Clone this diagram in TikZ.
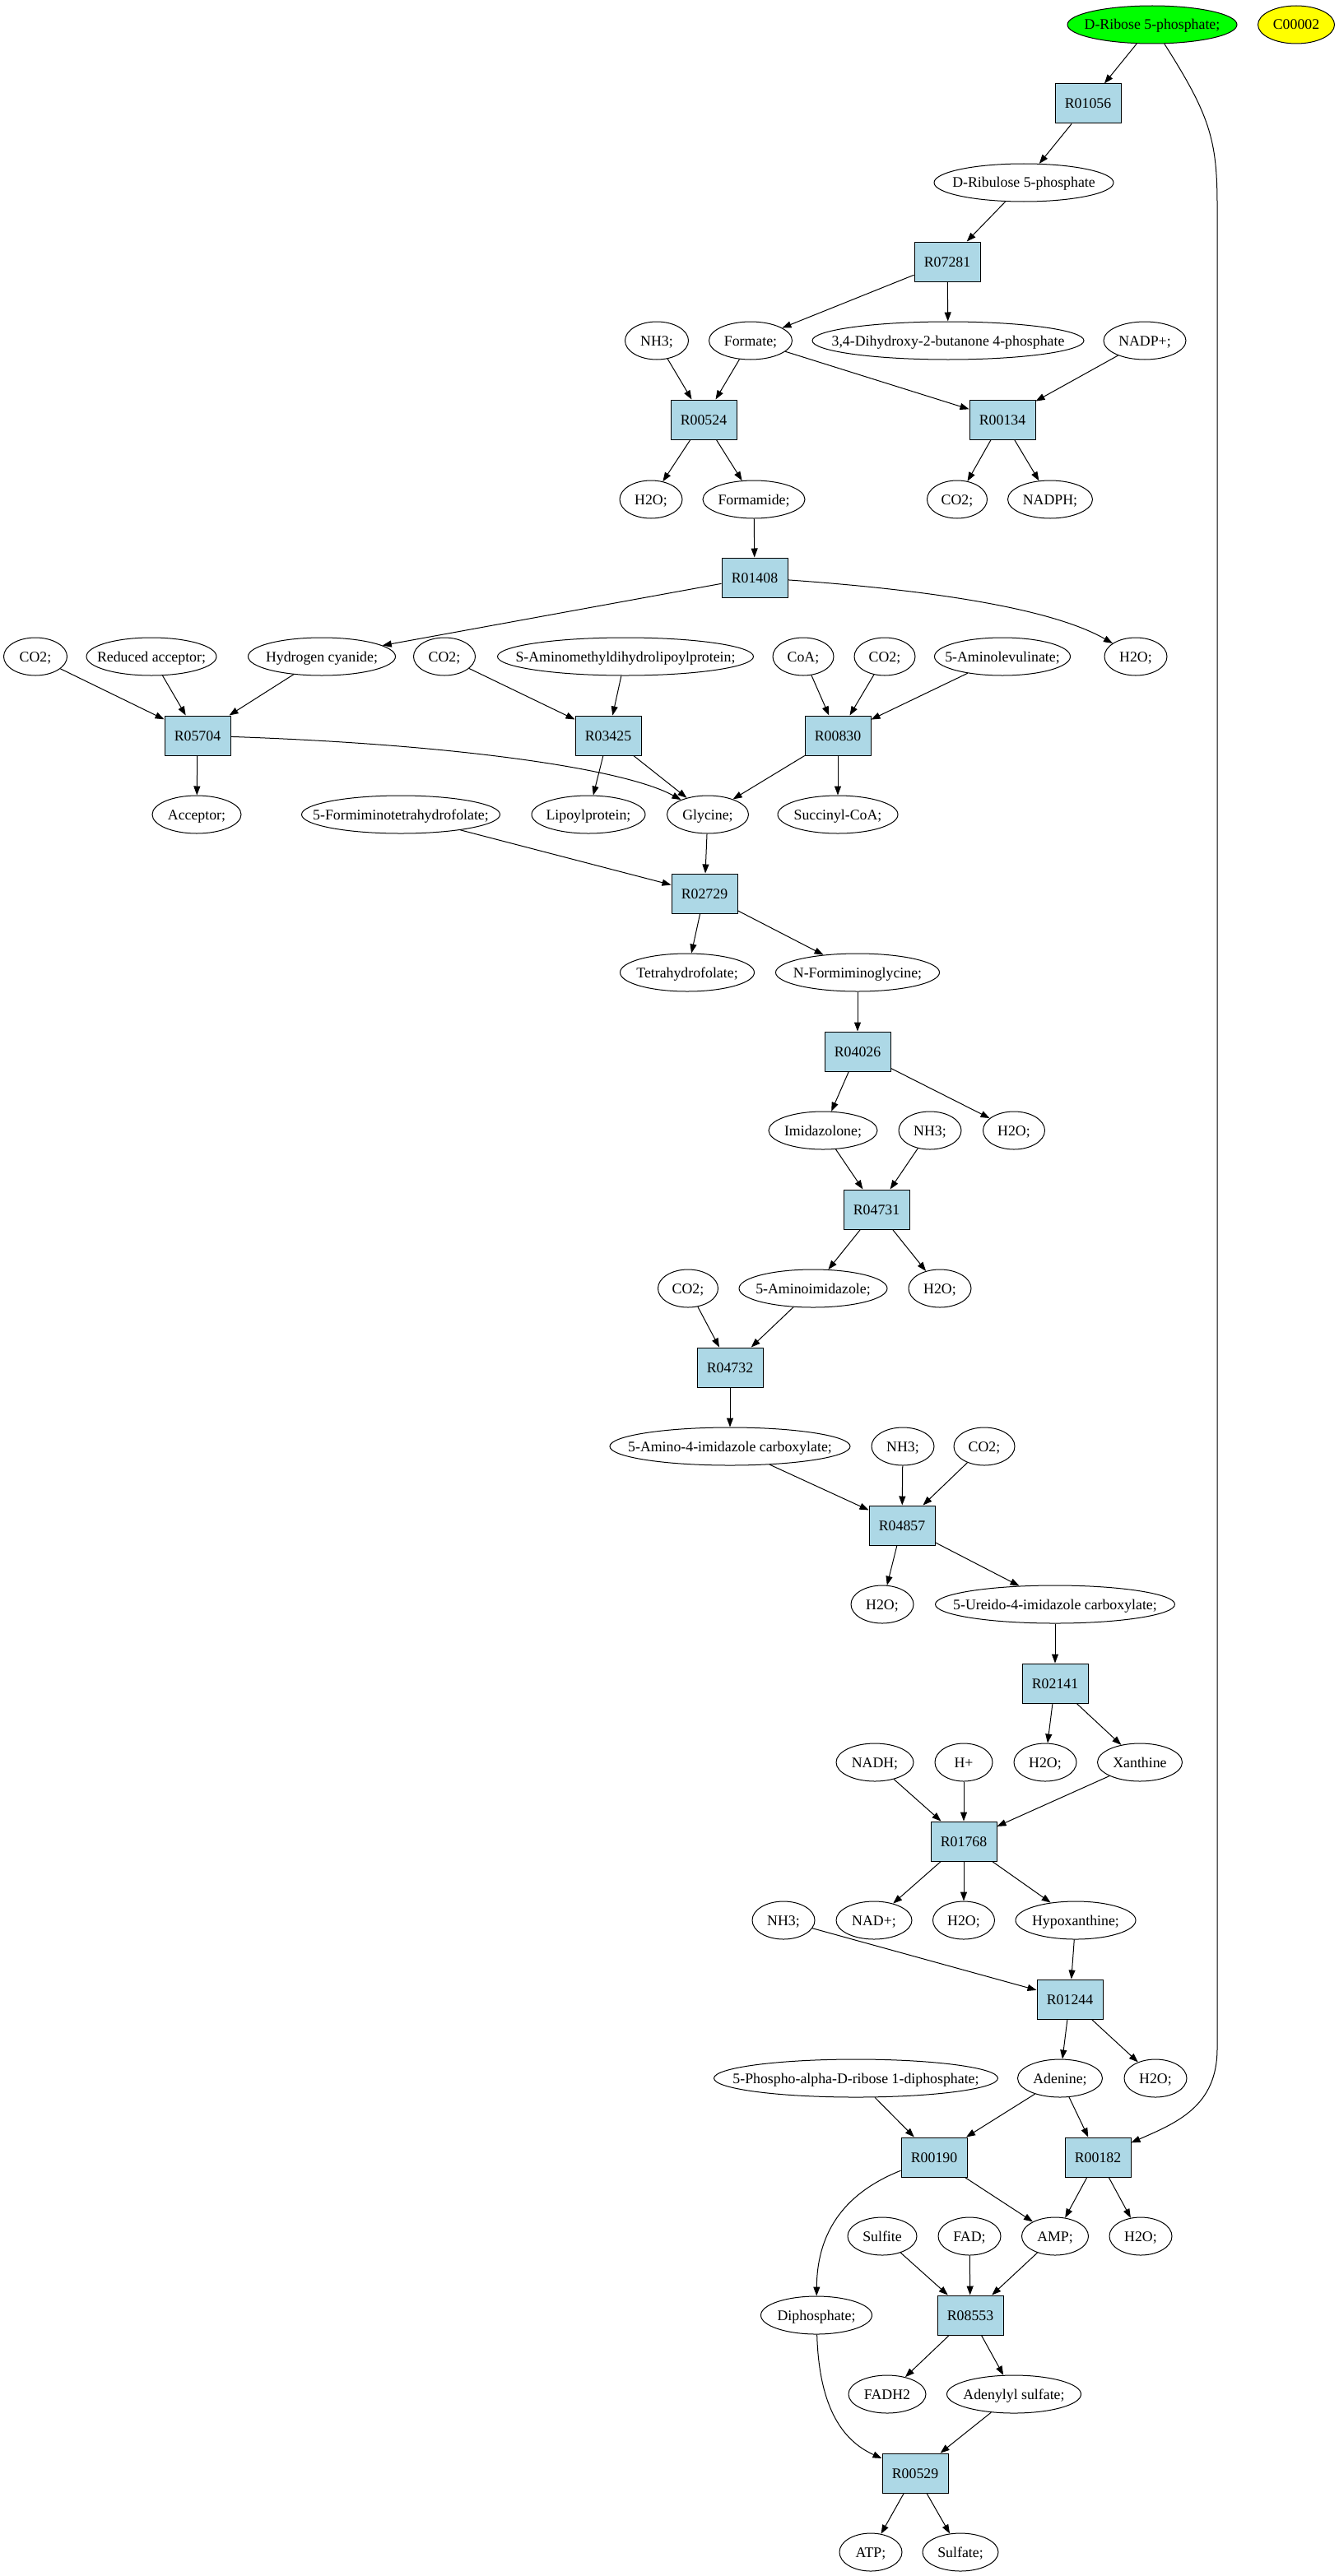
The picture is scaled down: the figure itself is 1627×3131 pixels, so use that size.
\documentclass[tikz,border=0pt]{standalone}
\usepackage{fontspec}
\setmainfont{Liberation Serif}
\usetikzlibrary{shapes.geometric,arrows.meta}
\definecolor{rxnblue}{RGB}{173,216,230}
\definecolor{startgreen}{RGB}{0,255,0}
\definecolor{hiyellow}{RGB}{255,255,0}
\newcommand{\cpd}[5][]{\node[cpd={#4},#1] (#2) at (#3) {\makebox[0pt]{#5}};}
\newcommand{\rxn}[3]{\node[rxnbox] (#1) at (#2) {#3};}
\tikzset{
  every node/.style={font=\fontsize{17.8}{21}\selectfont},
  cpd/.style={draw, ellipse, line width=1pt, inner sep=0pt, minimum height=46pt,
    minimum width=#1, text height=14pt, text depth=2pt},
  rxnbox/.style={draw, rectangle, line width=1pt, fill=rxnblue, inner sep=0pt,
    minimum width=80pt, minimum height=48pt, text height=14pt, text depth=2pt},
  edge/.style={line width=1pt, -{Triangle[length=11pt,width=8pt]}}
}
\begin{document}
\begin{tikzpicture}[x=1pt,y=-1pt]
\useasboundingbox (0,0) rectangle (1627,3131);
% compounds
\cpd[fill=startgreen]{drib}{1400,30}{206}{D-Ribose 5-phosphate;}
\cpd[fill=hiyellow]{ctwo}{1575,30}{93}{C00002}
\cpd{dribu}{1244,222}{218}{D-Ribulose 5-phosphate}
\cpd{nhthreea}{798,414}{77}{NH3;}
\cpd{formate}{912,414}{101}{Formate;}
\cpd{dhbp}{1152,414}{330}{3,4-Dihydroxy-2-butanone 4-phosphate}
\cpd{nadp}{1391,414}{100}{NADP+;}
\cpd{h2oa}{791,607}{76}{H2O;}
\cpd{formamide}{916,607}{124}{Formamide;}
\cpd{co2a}{1163,607}{73}{CO2;}
\cpd{nadph}{1276,607}{103}{NADPH;}
\cpd{co2b}{43,798}{77}{CO2;}
\cpd{redacc}{184,798}{158}{Reduced acceptor;}
\cpd{hcn}{391,798}{179}{Hydrogen cyanide;}
\cpd{co2c}{540,798}{75}{CO2;}
\cpd{sam}{760,798}{311}{S-Aminomethyldihydrolipoylprotein;}
\cpd{coa}{976,798}{74}{CoA;}
\cpd{co2d}{1075,798}{74}{CO2;}
\cpd{ala}{1218,798}{165}{5-Aminolevulinate;}
\cpd{h2ob}{1380,798}{76}{H2O;}
\cpd{acceptor}{239,990}{108}{Acceptor;}
\cpd{fthf}{487,990}{241}{5-Formiminotetrahydrofolate;}
\cpd{lipoyl}{715,990}{138}{Lipoylprotein;}
\cpd{glycine}{860,990}{99}{Glycine;}
\cpd{succoa}{1018,990}{146}{Succinyl-CoA;}
\cpd{thf}{835,1182}{163}{Tetrahydrofolate;}
\cpd{nfg}{1042,1182}{199}{N-Formiminoglycine;}
\cpd{imidazolone}{1000,1374}{132}{Imidazolone;}
\cpd{nhthreeb}{1130,1374}{76}{NH3;}
\cpd{h2oc}{1232,1374}{75}{H2O;}
\cpd{co2e}{836,1566}{73}{CO2;}
\cpd{ai}{988,1566}{180}{5-Aminoimidazole;}
\cpd{h2od}{1142,1566}{76}{H2O;}
\cpd{aic}{887,1758}{292}{5-Amino-4-imidazole carboxylate;}
\cpd{nhthreec}{1097,1758}{76}{NH3;}
\cpd{co2f}{1196,1758}{74}{CO2;}
\cpd{h2oe}{1072,1950}{76}{H2O;}
\cpd{uic}{1282,1950}{291}{5-Ureido-4-imidazole carboxylate;}
\cpd{nadh}{1063,2142}{94}{NADH;}
\cpd{hplus}{1171,2142}{70}{H+}
\cpd{h2of}{1270,2142}{76}{H2O;}
\cpd{xanthine}{1385,2142}{103}{Xanthine}
\cpd{nhthreed}{952,2334}{76}{NH3;}
\cpd{nadplus}{1062,2334}{92}{NAD+;}
\cpd{h2og}{1171,2334}{75}{H2O;}
\cpd{hypox}{1307,2334}{146}{Hypoxanthine;}
\cpd{prpp}{1040,2526}{345}{5-Phospho-alpha-D-ribose 1-diphosphate;}
\cpd{adenine}{1288,2526}{103}{Adenine;}
\cpd{h2oh}{1404,2526}{76}{H2O;}
\cpd{sulfite}{1072,2718}{84}{Sulfite}
\cpd{fad}{1178,2718}{76}{FAD;}
\cpd{amp}{1282,2718}{81}{AMP;}
\cpd{h2oi}{1386,2718}{76}{H2O;}
\cpd{diphos}{992,2814}{135}{Diphosphate;}
\cpd{fadh}{1078,2910}{94}{FADH2}
\cpd{aps}{1232,2910}{163}{Adenylyl sulfate;}
\cpd{atp}{1058,3102}{76}{ATP;}
\cpd{sulfate}{1167,3102}{92}{Sulfate;}
% reactions
\rxn{r01056}{1322,126}{R01056}
\rxn{r07281}{1151,318}{R07281}
\rxn{r00524}{855,510}{R00524}
\rxn{r00134}{1218,510}{R00134}
\rxn{r01408}{917,702}{R01408}
\rxn{r05704}{240,894}{R05704}
\rxn{r03425}{739,894}{R03425}
\rxn{r00830}{1018,894}{R00830}
\rxn{r02729}{856,1086}{R02729}
\rxn{r04026}{1042,1278}{R04026}
\rxn{r04731}{1065,1470}{R04731}
\rxn{r04732}{887,1662}{R04732}
\rxn{r04857}{1096,1854}{R04857}
\rxn{r02141}{1282,2046}{R02141}
\rxn{r01768}{1171,2238}{R01768}
\rxn{r01244}{1300,2430}{R01244}
\rxn{r00190}{1135,2622}{R00190}
\rxn{r00182}{1334,2622}{R00182}
\rxn{r08553}{1179,2814}{R08553}
\rxn{r00529}{1112,3006}{R00529}
% edges
\draw[edge] (drib) -- (r01056);
\draw[edge] (r01056) -- (dribu);
\draw[edge] (dribu) -- (r07281);
\draw[edge] (r07281) -- (formate);
\draw[edge] (r07281) -- (dhbp);
\draw[edge] (nhthreea) -- (r00524);
\draw[edge] (formate) -- (r00524);
\draw[edge] (formate) -- (r00134);
\draw[edge] (nadp) -- (r00134);
\draw[edge] (r00524) -- (h2oa);
\draw[edge] (r00524) -- (formamide);
\draw[edge] (r00134) -- (co2a);
\draw[edge] (r00134) -- (nadph);
\draw[edge] (formamide) -- (r01408);
\draw[edge] (r01408) -- (hcn);
\draw[edge] (r01408) .. controls (1100,715) and (1270,735) .. (h2ob);
\draw[edge] (co2b) -- (r05704);
\draw[edge] (redacc) -- (r05704);
\draw[edge] (hcn) -- (r05704);
\draw[edge] (r05704) -- (acceptor);
\draw[edge] (r05704) .. controls (560,905) and (760,935) .. (glycine);
\draw[edge] (co2c) -- (r03425);
\draw[edge] (sam) -- (r03425);
\draw[edge] (r03425) -- (lipoyl);
\draw[edge] (r03425) -- (glycine);
\draw[edge] (coa) -- (r00830);
\draw[edge] (co2d) -- (r00830);
\draw[edge] (ala) -- (r00830);
\draw[edge] (r00830) -- (glycine);
\draw[edge] (r00830) -- (succoa);
\draw[edge] (glycine) -- (r02729);
\draw[edge] (fthf) -- (r02729);
\draw[edge] (r02729) -- (thf);
\draw[edge] (r02729) -- (nfg);
\draw[edge] (nfg) -- (r04026);
\draw[edge] (r04026) -- (imidazolone);
\draw[edge] (r04026) -- (h2oc);
\draw[edge] (imidazolone) -- (r04731);
\draw[edge] (nhthreeb) -- (r04731);
\draw[edge] (r04731) -- (ai);
\draw[edge] (r04731) -- (h2od);
\draw[edge] (co2e) -- (r04732);
\draw[edge] (ai) -- (r04732);
\draw[edge] (r04732) -- (aic);
\draw[edge] (aic) -- (r04857);
\draw[edge] (nhthreec) -- (r04857);
\draw[edge] (co2f) -- (r04857);
\draw[edge] (r04857) -- (h2oe);
\draw[edge] (r04857) -- (uic);
\draw[edge] (uic) -- (r02141);
\draw[edge] (r02141) -- (h2of);
\draw[edge] (r02141) -- (xanthine);
\draw[edge] (nadh) -- (r01768);
\draw[edge] (hplus) -- (r01768);
\draw[edge] (xanthine) -- (r01768);
\draw[edge] (r01768) -- (nadplus);
\draw[edge] (r01768) -- (h2og);
\draw[edge] (r01768) -- (hypox);
\draw[edge] (nhthreed) -- (r01244);
\draw[edge] (hypox) -- (r01244);
\draw[edge] (r01244) -- (adenine);
\draw[edge] (r01244) -- (h2oh);
\draw[edge] (prpp) -- (r00190);
\draw[edge] (adenine) -- (r00190);
\draw[edge] (adenine) -- (r00182);
\draw[edge] (drib) .. controls (1470,140) and (1479,170) .. (1479,250) -- (1479,2490) .. controls (1479,2560) and (1430,2580) .. (r00182);
\draw[edge] (r00190) .. controls (1040,2660) and (993,2700) .. (diphos);
\draw[edge] (r00190) -- (amp);
\draw[edge] (r00182) -- (amp);
\draw[edge] (r00182) -- (h2oi);
\draw[edge] (sulfite) -- (r08553);
\draw[edge] (fad) -- (r08553);
\draw[edge] (amp) -- (r08553);
\draw[edge] (r08553) -- (fadh);
\draw[edge] (r08553) -- (aps);
\draw[edge] (diphos) .. controls (995,2920) and (1020,2965) .. (r00529);
\draw[edge] (aps) -- (r00529);
\draw[edge] (r00529) -- (atp);
\draw[edge] (r00529) -- (sulfate);
\end{tikzpicture}
\end{document}
